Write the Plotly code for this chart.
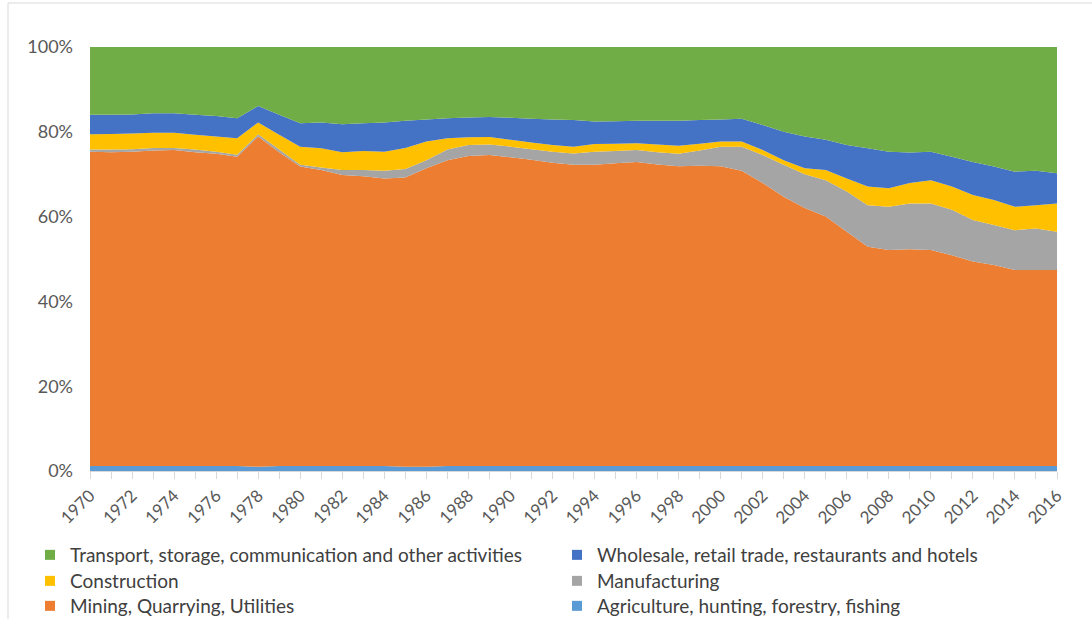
import plotly.graph_objects as go

years = list(range(1970, 2017))

agriculture = [1.2]*8 + [1.0] + [1.2]*6 + [1.0, 1.0] + [1.2]*30
mining = [74.1, 74.0, 74.1, 74.4, 74.5, 74.0, 73.6, 72.9, 77.9, 74.0,
          70.6, 69.8, 68.6, 68.3, 67.8, 68.2, 70.4, 72.1, 73.1, 73.3,
          72.8, 72.2, 71.5, 71.0, 71.0, 71.4, 71.7, 71.1, 70.7, 70.8,
          70.7, 69.6, 66.7, 63.5, 60.8, 58.8, 55.2, 51.7, 50.9, 51.1,
          50.9, 49.7, 48.2, 47.4, 46.2, 46.2, 46.2]
manufacturing = [0.5, 0.6, 0.6, 0.6, 0.5, 0.6, 0.5, 0.5, 0.5, 0.6,
                 0.4, 0.6, 1.2, 1.5, 1.8, 2.0, 1.9, 2.5, 2.6, 2.5,
                 2.5, 2.5, 2.6, 2.7, 3.1, 2.9, 2.8, 2.9, 2.9, 3.6,
                 4.6, 5.7, 6.6, 7.5, 8.0, 8.6, 9.5, 9.8, 10.2, 10.8,
                 11.0, 10.7, 9.8, 9.4, 9.4, 9.8, 9.0]
construction = [3.6, 3.7, 3.7, 3.6, 3.6, 3.5, 3.6, 3.9, 2.8, 3.5,
                4.3, 4.5, 4.2, 4.5, 4.5, 5.0, 4.4, 2.7, 1.8, 1.8,
                1.6, 1.6, 1.6, 1.6, 1.8, 1.7, 1.6, 1.8, 1.9, 1.6,
                1.2, 1.2, 1.2, 1.1, 1.4, 2.4, 3.1, 4.4, 4.4, 4.8,
                5.5, 5.5, 5.9, 5.9, 5.5, 5.5, 6.7]
wholesale = [4.6, 4.5, 4.5, 4.6, 4.6, 4.7, 4.8, 4.7, 3.9, 4.7,
             5.5, 6.1, 6.6, 6.5, 6.9, 6.4, 5.2, 4.7, 4.7, 4.7,
             5.2, 5.6, 6.0, 6.3, 5.3, 5.3, 5.3, 5.6, 5.9, 5.6,
             5.2, 5.4, 5.9, 6.7, 7.5, 7.1, 7.9, 9.0, 8.6, 7.2,
             6.7, 7.0, 7.8, 7.9, 8.3, 8.1, 7.1]
transport = [16.0, 16.0, 15.9, 15.6, 15.6, 16.0, 16.3, 16.8, 13.9, 16.0,
             18.0, 17.8, 18.2, 18.0, 17.8, 17.4, 17.1, 16.8, 16.6, 16.5,
             16.7, 16.9, 17.1, 17.2, 17.6, 17.5, 17.4, 17.4, 17.4, 17.2,
             17.1, 16.9, 18.4, 20.0, 21.1, 21.9, 23.1, 23.9, 24.7, 24.9,
             24.7, 25.9, 27.1, 28.2, 29.4, 29.2, 29.8]

# (name, values, colour, legend column, legend row)
series = [
    ("Agriculture, hunting, forestry, fishing", agriculture, "#5B9BD5", 1, 2),
    ("Mining, Quarrying, Utilities", mining, "#ED7D31", 0, 2),
    ("Manufacturing", manufacturing, "#A5A5A5", 1, 1),
    ("Construction", construction, "#FFC000", 0, 1),
    ("Wholesale, retail trade, restaurants and hotels", wholesale, "#4472C4", 1, 0),
    ("Transport, storage, communication and other activities", transport, "#70AD47", 0, 0),
]

fig = go.Figure()
for name, vals, color, _, _ in series:
    fig.add_trace(go.Scatter(
        x=years, y=vals, name=name, mode="none",
        stackgroup="one", groupnorm="percent",
        fillcolor=color, showlegend=False,
    ))

col_x = [30, 557]       # legend column left edges (px)
row_top = [536, 562, 587]  # legend row top edges (px)
legend_layout = {}
for i, (name, vals, color, col, row) in enumerate(series):
    key = "legend" if i == 0 else f"legend{i + 1}"
    fig.add_trace(go.Scatter(
        x=[None], y=[None], name=name, mode="markers",
        marker=dict(symbol="square", size=10, color=color),
        legend=key, showlegend=True,
    ))
    legend_layout[key] = dict(
        orientation="v", yanchor="top", xanchor="left",
        x=(col_x[col] - 90) / 967, y=(471 - row_top[row]) / 424,
        font=dict(size=19, color="#404040", family="Lato, 'Open Sans', sans-serif"),
        itemwidth=30, bgcolor="rgba(0,0,0,0)",
    )

fig.update_layout(
    width=1092, height=619,
    margin=dict(l=90, r=35, t=47, b=148, autoexpand=False),
    paper_bgcolor="white", plot_bgcolor="white",
    font=dict(family="Lato, 'Open Sans', sans-serif", color="#595959"),
    showlegend=True,
    xaxis=dict(
        range=[1970, 2016], tickmode="array",
        tickvals=years[::2], ticktext=[str(y) for y in years[::2]],
        tickangle=-45, tickfont=dict(size=17, color="#595959"),
        showgrid=False, showline=True, linecolor="#D9D9D9",
        ticks="outside", ticklen=7, tickcolor="#D9D9D9",
        minor=dict(ticks="outside", dtick=1, tick0=1970, ticklen=7,
                   tickcolor="#D9D9D9", showgrid=False),
        zeroline=False,
    ),
    yaxis=dict(
        range=[0, 100], dtick=20, ticksuffix="%",
        tickfont=dict(size=18, color="#595959"),
        showgrid=True, gridcolor="#D9D9D9", zeroline=False,
        ticks="", ticklabelstandoff=16,
    ),
    shapes=[
        dict(type="line", xref="paper", yref="paper",
             x0=(8 - 90) / 967, x1=(1092 - 90) / 967,
             y0=(471 - 3) / 424, y1=(471 - 3) / 424,
             line=dict(color="#D9D9D9", width=1)),
        dict(type="line", xref="paper", yref="paper",
             x0=(8 - 90) / 967, x1=(8 - 90) / 967,
             y0=(471 - 619) / 424, y1=(471 - 3) / 424,
             line=dict(color="#D9D9D9", width=1)),
    ],
    **legend_layout,
)

fig.write_html("out.html", config={"displayModeBar": False},
               post_script="document.body.style.margin='0';")
